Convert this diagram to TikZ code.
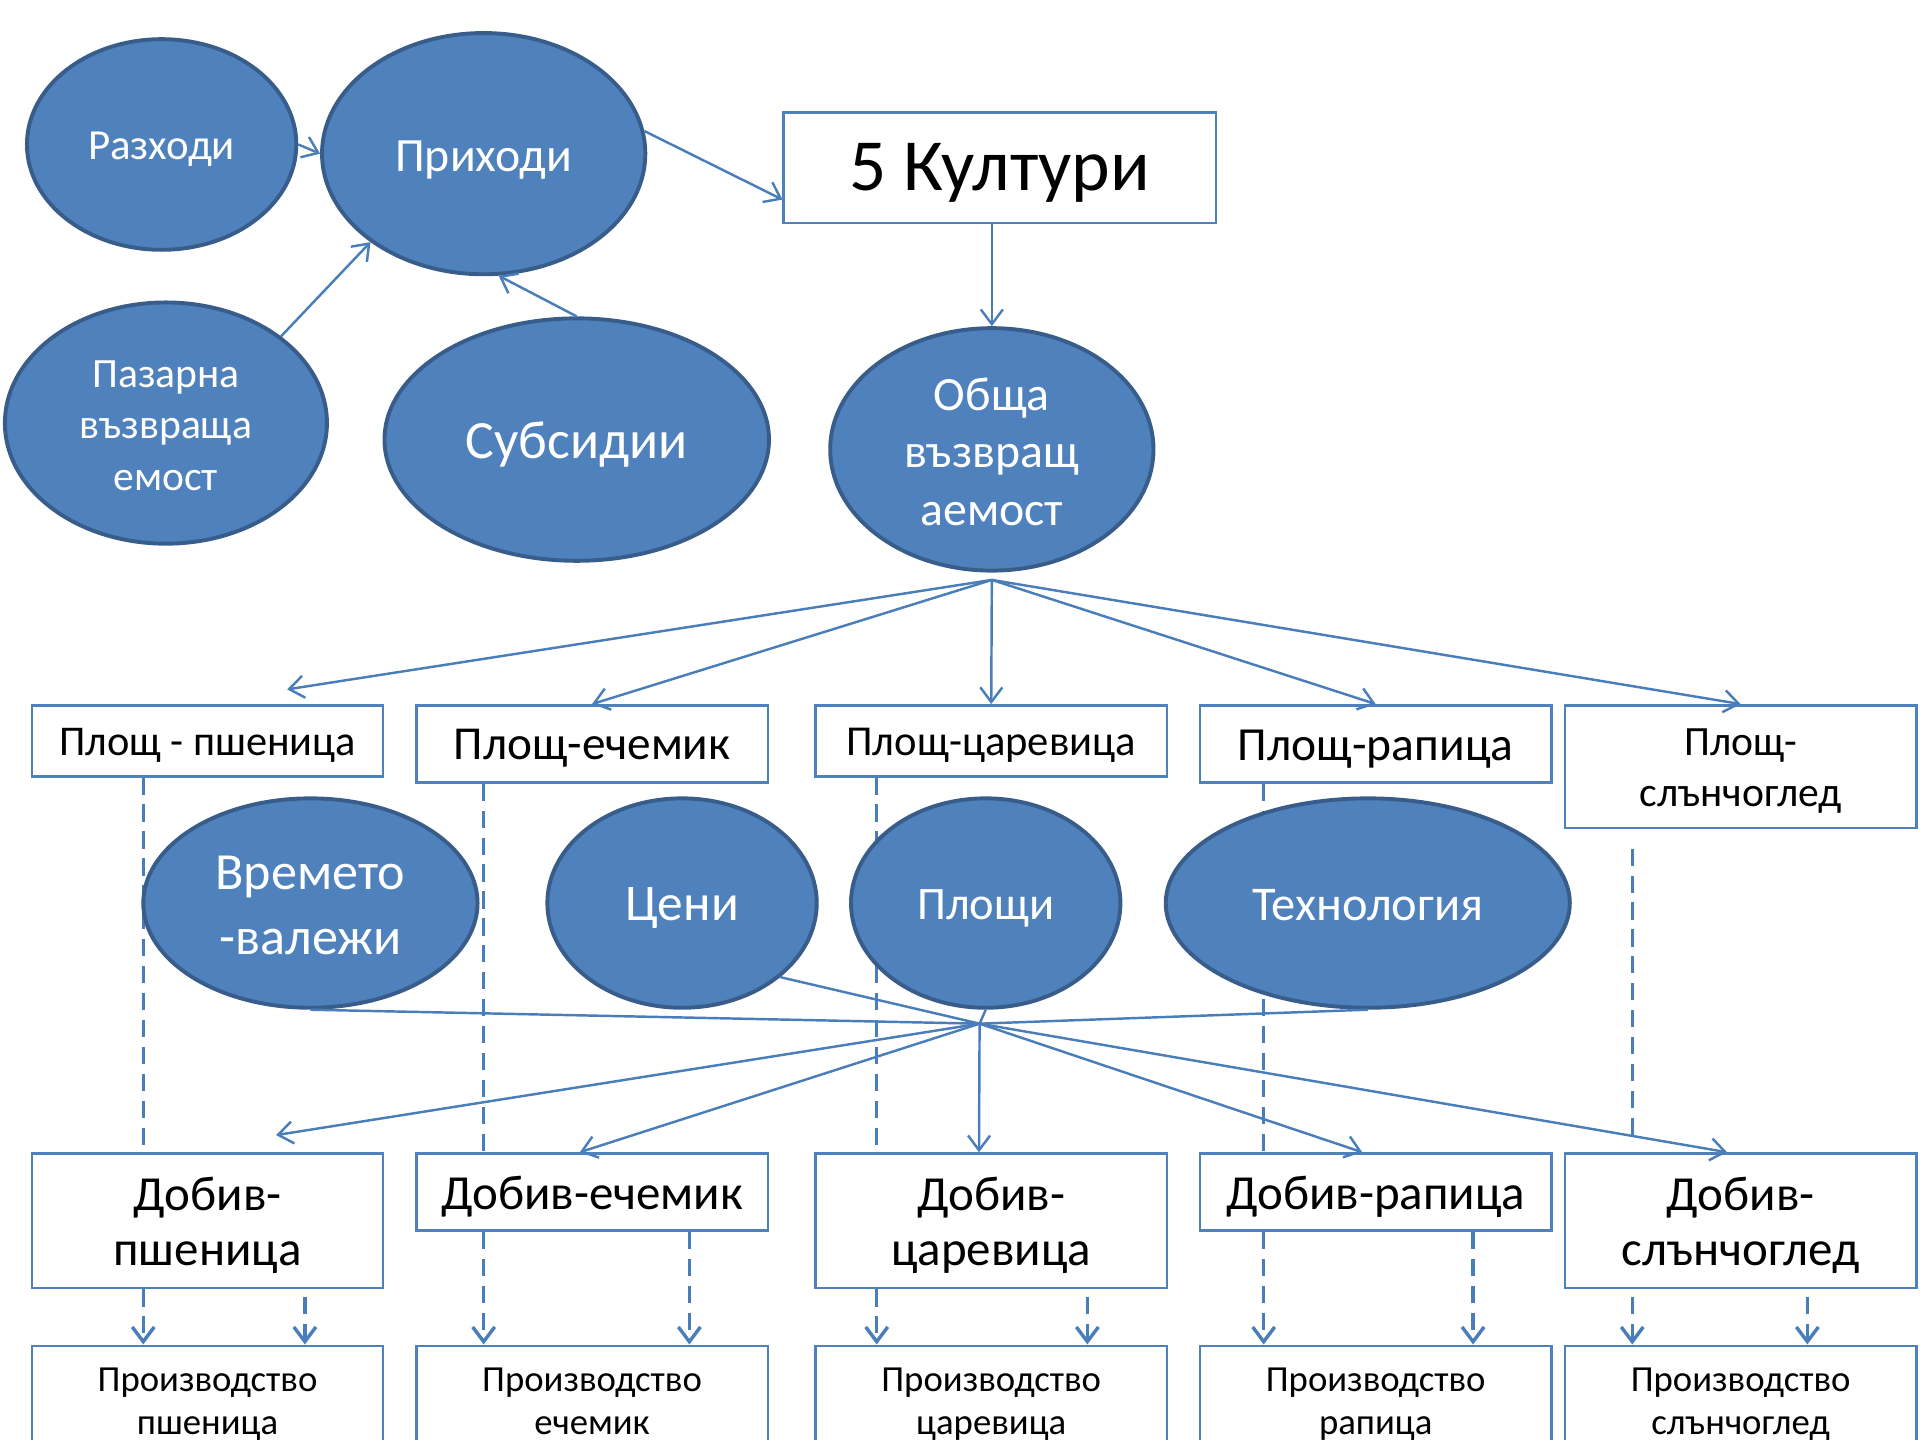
\documentclass[tikz,border=0pt]{standalone}
\usepackage{fontspec}
\setmainfont{Carlito}
\usetikzlibrary{arrows.meta,shapes.geometric,calc}
\definecolor{efill}{HTML}{4F81BD}
\definecolor{eline}{HTML}{385D8A}
\definecolor{cline}{HTML}{4A7EBB}
\pgfdeclarelayer{bg}
\pgfsetlayers{bg,main}
\newcommand\myfs[2]{\fontsize{#1}{#2}\selectfont}
\newcommand\txl[2]{\raisebox{-#1}[\height][\depth]{\begin{tabular}{@{}c@{}}#2\end{tabular}}}
\begin{document}
\begin{tikzpicture}[x=0.5pt,y=-0.5pt,
  ell/.style={ellipse,draw=eline,line width=1.6pt,fill=efill,text=white,inner sep=-12pt},
  box/.style={rectangle,draw=efill,line width=1pt,fill=white,inner sep=0pt,minimum width=143.5pt},
  arr/.style={draw=cline,line width=1pt,-{Straight Barb[length=6pt,width=9pt]}},
  ln/.style={draw=cline,line width=1pt},
  dsh/.style={draw=cline,line width=1.4pt,dash pattern=on 7pt off 4pt},
  darr/.style={dsh,-{Straight Barb[length=6pt,width=9pt]}}]
\useasboundingbox (0,0) rectangle (1568,1176);
\clip (0,0) rectangle (1568,1176);
% ellipses
\node[ell,minimum width=110pt,minimum height=86pt,font=\myfs{17.5}{21}] (rz) at (132,118) {\txl{2pt}{Разходи}};
\node[ell,minimum width=132pt,minimum height=98.5pt,font=\myfs{19.5}{23.4}] (pr) at (395,125.5) {\txl{2.6pt}{Приходи}};
\node[ell,minimum width=131.5pt,minimum height=98.5pt,font=\myfs{17}{21}] (pz) at (135.5,345.5) {\txl{2.2pt}{Пазарна\\възвраща\\емост}};
\node[ell,minimum width=157pt,minimum height=99pt,font=\myfs{22}{26.4}] (sb) at (471,359) {\txl{2.3pt}{Субсидии}};
\node[ell,minimum width=132pt,minimum height=99pt,font=\myfs{19.5}{23.5}] (ob) at (810,367) {\txl{2.8pt}{Обща\\възвращ\\аемост}};
\node[ell,minimum width=136.5pt,minimum height=85.5pt,font=\myfs{21.3}{26.5}] (vr) at (253.5,737.5) {\txl{2.6pt}{Времето\\-валежи}};
\node[ell,minimum width=110pt,minimum height=85.5pt,font=\myfs{21}{25.2}] (cn) at (557,737.5) {\txl{2.2pt}{Цени}};
\node[ell,minimum width=110pt,minimum height=85.5pt,font=\myfs{19}{22.8}] (plq) at (805,737.5) {\txl{2.3pt}{Площи}};
\node[ell,minimum width=165pt,minimum height=85.5pt,font=\myfs{19.8}{23.8}] (tx) at (1117,737.5) {\txl{2.3pt}{Технология}};
% boxes
\node[box,minimum width=176.5pt,minimum height=45pt,font=\myfs{30}{36}] (kt) at (816.5,137) {\txl{2.2pt}{5 Култури}};
\node[box,minimum height=29pt,font=\myfs{17.3}{20.8}] (pl1) at (169.5,605) {\txl{1.8pt}{Площ - пшеница}};
\node[box,minimum height=31.5pt,font=\myfs{19.3}{23.2}] (pl2) at (483.5,607.5) {\txl{1.9pt}{Площ-ечемик}};
\node[box,minimum height=29pt,font=\myfs{17.4}{20.9}] (pl3) at (809.5,605) {\txl{1.8pt}{Площ-царевица}};
\node[box,minimum height=31.5pt,font=\myfs{19.4}{23.3}] (pl4) at (1123.5,607.5) {\txl{2pt}{Площ-рапица}};
\node[box,minimum height=50pt,font=\myfs{17}{21}] (pl5) at (1421.5,626) {\txl{1.8pt}{Площ-\\слънчоглед}};
\node[box,minimum height=55pt,font=\myfs{20}{22.5}] (db1) at (169.5,997) {\txl{2.4pt}{Добив-\\пшеница}};
\node[box,minimum height=31.5pt,font=\myfs{20}{24}] (db2) at (483.5,973.5) {\txl{2.3pt}{Добив-ечемик}};
\node[box,minimum height=55pt,font=\myfs{20}{22.5}] (db3) at (809.5,997) {\txl{2.4pt}{Добив-\\царевица}};
\node[box,minimum height=31.5pt,font=\myfs{20}{24}] (db4) at (1123.5,973.5) {\txl{2.3pt}{Добив-рапица}};
\node[box,minimum height=55pt,font=\myfs{20}{22.5}] (db5) at (1421.5,997) {\txl{2.4pt}{Добив-\\слънчоглед}};
\node[box,minimum height=46pt,font=\myfs{15}{17.5}] (pr1) at (169.5,1145) {\txl{1pt}{Производство\\пшеница}};
\node[box,minimum height=46pt,font=\myfs{15}{17.5}] (pr2) at (483.5,1145) {\txl{1pt}{Производство\\ечемик}};
\node[box,minimum height=46pt,font=\myfs{15}{17.5}] (pr3) at (809.5,1145) {\txl{1pt}{Производство\\царевица}};
\node[box,minimum height=46pt,font=\myfs{15}{17.5}] (pr4) at (1123.5,1145) {\txl{1pt}{Производство\\рапица}};
\node[box,minimum height=46pt,font=\myfs{15}{17.5}] (pr5) at (1421.5,1145) {\txl{1pt}{Производство\\слънчоглед}};
% top connectors
\draw[arr] (rz.east) -- (pr.west);
\draw[arr] (pr.8) -- ($(kt.south west)+(0,-20)$);
\draw[arr] (pz.37) -- (pr.218);
\draw[arr] (sb.north) -- (pr.-83);
\draw[arr] (kt.south -| ob.north) -- (ob.north);
% fan 1
\coordinate (f1) at ($(ob.south)+(0,6)$);
\draw[arr] (f1) -- ($(pl1.north)+(65,-12)$);
\draw[arr] (f1) -- (pl2.north);
\draw[arr] (f1) -- (pl3.north);
\draw[arr] (f1) -- (pl4.north);
\draw[arr] (f1) -- (pl5.north);
% fan 2
\coordinate (f2) at (800,836);
\draw[ln] (vr.south) -- (f2);
\draw[ln] (cn.-37) -- (f2);
\draw[ln] (plq.south) -- (f2);
\draw[ln] (tx.south) -- (f2);
\draw[arr] (f2) -- ($(db1.north)+(56,-14)$);
\draw[arr] (f2) -- ($(db2.north)+(-10,0)$);
\draw[arr] (f2) -- ($(db3.north)+(-10,0)$);
\draw[arr] (f2) -- ($(db4.north)+(-11,0)$);
\draw[arr] (f2) -- ($(db5.north)+(-11,0)$);
% dashed columns
\coordinate (c1) at (117,0);  \coordinate (c1b) at (249,0);
\coordinate (c2) at (395,0);  \coordinate (c2b) at (563,0);
\coordinate (c3) at (716,0);  \coordinate (c3b) at (888,0);
\coordinate (c4) at (1032,0); \coordinate (c4b) at (1203,0);
\coordinate (c5) at (1333,0); \coordinate (c5b) at (1476,0);
\begin{pgfonlayer}{bg}
\draw[dsh] (pl1.south -| c1) -- (db1.north -| c1);
\draw[dsh] (pl2.south -| c2) -- (db2.north -| c2);
\draw[dsh] (pl3.south -| c3) -- (db3.north -| c3);
\draw[dsh] (pl4.south -| c4) -- (db4.north -| c4);
\draw[dsh,shorten <=8pt,shorten >=3.5pt] (pl5.south -| c5) -- (db5.north -| c5);
\end{pgfonlayer}
\draw[darr] (db1.south -| c1) -- (pr1.north -| c1);
\draw[darr,shorten <=3pt] (db1.south -| c1b) -- (pr1.north -| c1b);
\draw[darr] (db2.south -| c2) -- (pr2.north -| c2);
\draw[darr] (db2.south -| c2b) -- (pr2.north -| c2b);
\draw[darr] (db3.south -| c3) -- (pr3.north -| c3);
\draw[darr,shorten <=3pt] (db3.south -| c3b) -- (pr3.north -| c3b);
\draw[darr] (db4.south -| c4) -- (pr4.north -| c4);
\draw[darr] (db4.south -| c4b) -- (pr4.north -| c4b);
\draw[darr,shorten <=3pt] (db5.south -| c5) -- (pr5.north -| c5);
\draw[darr,shorten <=3pt] (db5.south -| c5b) -- (pr5.north -| c5b);
\end{tikzpicture}
\end{document}
